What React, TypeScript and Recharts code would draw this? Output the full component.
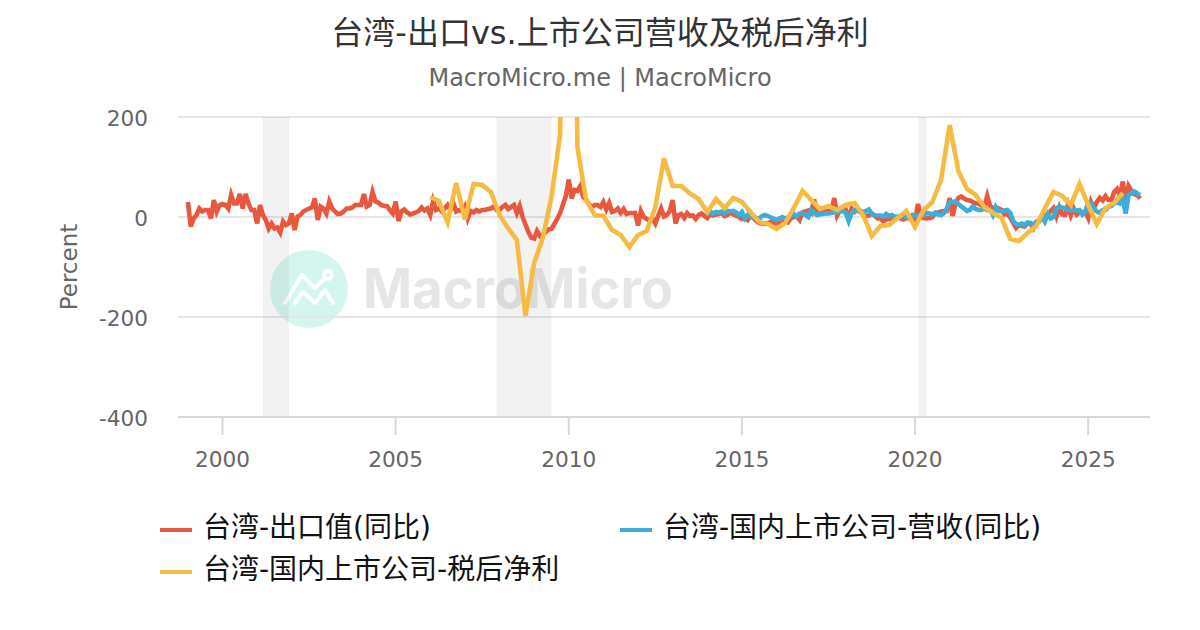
import { CartesianGrid, Line, LineChart, ReferenceArea, XAxis, YAxis } from 'recharts'

const TITLE = '台湾-出口vs.上市公司营收及税后净利'
const SUBTITLE = 'MacroMicro.me | MacroMicro'

const YEAR_TICKS = [2000, 2005, 2010, 2015, 2020, 2025]
const VALUE_TICKS = [-400, -200, 0, 200]

// recession bands, as decimal years
const BANDS = [
  [2001.17, 2001.92],
  [2007.92, 2009.5],
  [2020.1, 2020.33],
]

// monthly, from 1999-01
const EXPORT_VALUES = [
  30, -19, -3, 4, 17, 11, 14, 14, -3, 34, 11, 24,
  26, 24, 17, 44, 27, 27, 46, 17, 46, 27, 14, 14,
  -13, 24, 4, -6, -23, -13, -23, -21, -31, -9, -16, -13,
  7, -26, 1, 4, 11, 14, 17, 19, 37, -6, 21, 17,
  7, 31, 17, 11, 6, 7, 11, 17, 17, 19, 24, 24,
  24, 46, 21, 24, 50, 31, 29, 24, 22, 22, 14, 7,
  31, -8, 11, 15, 9, 5, 7, 9, 12, 19, 13, 17,
  4, 32, 14, 17, 11, 17, 24, 14, 27, 11, 14, 11,
  21, -3, 12, 9, 14, 11, 14, 14, 16, 17, 21, 14,
  14, 20, 24, 16, 20, 24, 8, 22, 0, -15, -30, -41,
  -43, -28, -38, -35, -30, -25, -24, -14, -4, 8, 25, 42,
  75, 37, 54, 52, 62, 40, 34, 26, 20, 24, 24, 20,
  30, 15, 28, 10, 12, 17, 8, 16, 6, 8, 8, 8,
  -17, 12, 0, -4, -7, -3, -13, 3, 17, 1, 4, 12,
  34, -13, 4, 6, -2, 8, 2, 3, -4, 4, 7, 2,
  -2, 6, 3, 5, 6, 8, 2, 4, 9, 5, 3, 0,
  -4, -2, -6, 2, -2, -8, -12, -13, -14, -12, -10, -12,
  -13, -12, -11, -5, -10, -2, 0, 1, -6, 9, 11, 13,
  8, 35, 13, 9, 8, 13, 12, 12, 38, 3, 14, 15,
  15, -4, 17, 10, 14, 10, 5, 2, 3, 7, 3, -3,
  -3, -9, -5, -3, -5, 0, 0, -3, -5, -2, -3, 2,
  -8, 26, -1, -2, -3, -2, 0, 8, 9, 11, 12, 12,
  38, 2, 27, 38, 41, 37, 34, 33, 30, 27, 27, 23,
  20, 42, 22, 18, 13, 17, 14, 5, 6, -1, -12, -22,
  -16, -18, -19, -13, -14, -23, -10, -7, 3, 4, 4, 12,
  18, 1, 19, 5, 4, 24, 3, 17, 5, 9, 10, 10,
  -2, 30, 18, 30, 38, 33, 42, 34, 34, 50, 56, 43,
  71, 30, 62, 52, 45, 44, 37,
]

// monthly, from 2014-01
const REVENUE_VALUES = [
  6, 11, 7, 10, 9, 11, 7, 12, 11, 12, 9, 4,
  10, -3, 4, 1, 0, -2, -3, 2, 4, 2, -1, -3,
  -6, -3, 0, -3, -1, 3, 6, 1, 7, 7, 4, 0,
  14, 8, 4, 5, 6, 7, 7, 8, 10, 9, 11, 12,
  8, -8, 8, 14, 13, 13, 10, 12, 15, 7, 3, 3,
  3, 1, 6, 2, 4, 0, 1, 0, 3, 0, -2, 4,
  4, 0, 6, 3, 8, 7, 5, 9, 5, 4, 8, 17,
  29, 30, 31, 26, 21, 17, 12, 14, 21, 16, 14, 14,
  17, 14, 15, 4, 20, 12, 11, 13, 14, 8, -8, -14,
  -16, -13, -16, -11, -12, -16, -10, -9, 1, -9, 6, -3,
  0, 17, 21, 19, 17, 15, 14, 14, 13, 14, 5, 10,
  30, 28, 17, 11, 8, 14, 14, 21, 22, 27, 30, 27,
  37, 7, 44, 48, 51, 47, 44,
]

// quarterly, from 2006 Q1
const PROFIT_VALUES = [
  40, 32, -10, 68,
  -5, 66, 64, 50,
  4, -23, -46, -198,
  -92, -42, 40, 165,
  1600, 140, 34, 4,
  2, -26, -36, -60,
  -36, -28, 20, 117,
  62, 62, 47, 36,
  10, 36, 18, 38,
  30, 10, -10, -14,
  -24, -12, 18, 52,
  34, 16, 22, 14,
  24, 28, 4, -38,
  -18, -16, -2, 12,
  -20, 14, 30, 74,
  184, 92, 56, 44,
  20, 8, -2, -44,
  -48, -32, -18, 18,
  50, 42, 24, 66,
  24, -14, 18, 28,
  48,
]

const SERIES = [
  { name: '台湾-出口值(同比)', color: '#E9573F', start: 1999, step: 1 / 12, values: EXPORT_VALUES },
  { name: '台湾-国内上市公司-营收(同比)', color: '#3BAFDA', start: 2014, step: 1 / 12, values: REVENUE_VALUES },
  { name: '台湾-国内上市公司-税后净利', color: '#F6BB42', start: 2006, step: 1 / 4, values: PROFIT_VALUES },
]

const toPoints = (start: number, step: number, values: number[]) =>
  values.map((value, i) => ({ year: start + i * step, value }))

const LATIN = '"DejaVu Sans", "Noto Sans CJK SC", sans-serif'

function Watermark() {
  return (
    <svg width={1200} height={630} style={{ position: 'absolute', left: 0, top: 0 }}>
      <circle cx={309} cy={289} r={39} fill="#d4f6ef" />
      <g fill="none" stroke="#fff" strokeWidth={4} strokeLinecap="round" strokeLinejoin="round">
        <polyline points="285,303 302,275 315,288 325,278" />
        <polyline points="295,303 303,292 315,303 325,290 333,303" />
        <circle cx={328} cy={275} r={4} />
      </g>
      <text
        x={363}
        y={308}
        fontFamily="Inter, sans-serif"
        fontWeight={700}
        fontSize={55}
        fill="#e4e6e8"
        textLength={310}
        lengthAdjust="spacingAndGlyphs"
      >
        MacroMicro
      </text>
    </svg>
  )
}

function LegendRow({ name, color, x, y }: { name: string; color: string; x: number; y: number }) {
  return (
    <div style={{ position: 'absolute', left: x, top: y, height: 40, display: 'flex', alignItems: 'center', whiteSpace: 'nowrap' }}>
      <span style={{ display: 'inline-block', width: 32, height: 4, background: color, marginRight: 11 }} />
      <span style={{ fontFamily: LATIN, fontSize: 28, color: '#111', position: 'relative', top: -5 }}>{name}</span>
    </div>
  )
}

export default function App() {
  return (
    <div style={{ position: 'absolute', left: 0, top: 0, width: 1200, height: 630, background: '#fff', overflow: 'hidden' }}>
      <Watermark />
      <div style={{ position: 'absolute', top: 7, width: 1200, textAlign: 'center', fontFamily: LATIN, fontSize: 32, color: '#333' }}>
        {TITLE}
      </div>
      <div style={{ position: 'absolute', top: 64, width: 1200, textAlign: 'center', fontFamily: LATIN, fontSize: 24, color: '#666' }}>
        {SUBTITLE}
      </div>
      <div style={{ position: 'absolute', left: 0, top: 0 }}>
        <LineChart width={1200} height={630} margin={{ top: 117, right: 50, bottom: 0, left: 0 }}>
          <CartesianGrid horizontal vertical={false} stroke="#e6e6e6" strokeWidth={2} />
          <XAxis
            dataKey="year"
            type="number"
            domain={[1998.715, 2026.785]}
            ticks={YEAR_TICKS}
            allowDataOverflow
            height={213}
            stroke="#d8d8d8"
            strokeWidth={2}
            tickSize={18}
            tickMargin={17}
            tick={{ fill: '#666', fontSize: 21.6, fontFamily: LATIN }}
            allowDuplicatedCategory={false}
          />
          <YAxis
            type="number"
            domain={[-400, 200]}
            ticks={VALUE_TICKS}
            allowDataOverflow
            width={178}
            axisLine={false}
            tickLine={false}
            tickMargin={24}
            tick={{ fill: '#666', fontSize: 21.6, fontFamily: LATIN, dy: 1 }}
            label={{ value: 'Percent', angle: -90, position: 'insideLeft', offset: 69, style: { fill: '#666', fontSize: 23, fontFamily: LATIN, textAnchor: 'middle' } }}
          />
          {BANDS.map(([x1, x2]) => (
            <ReferenceArea key={x1} x1={x1} x2={x2} fill="#000" fillOpacity={0.05} stroke="none" />
          ))}
          {SERIES.map((s) => (
            <Line
              key={s.name}
              data={toPoints(s.start, s.step, s.values)}
              dataKey="value"
              name={s.name}
              stroke={s.color}
              strokeWidth={4.6}
              dot={false}
              activeDot={false}
              isAnimationActive={false}
            />
          ))}
        </LineChart>
      </div>
      <LegendRow name={SERIES[0].name} color={SERIES[0].color} x={160} y={510} />
      <LegendRow name={SERIES[1].name} color={SERIES[1].color} x={620} y={510} />
      <LegendRow name={SERIES[2].name} color={SERIES[2].color} x={160} y={552} />
    </div>
  )
}
